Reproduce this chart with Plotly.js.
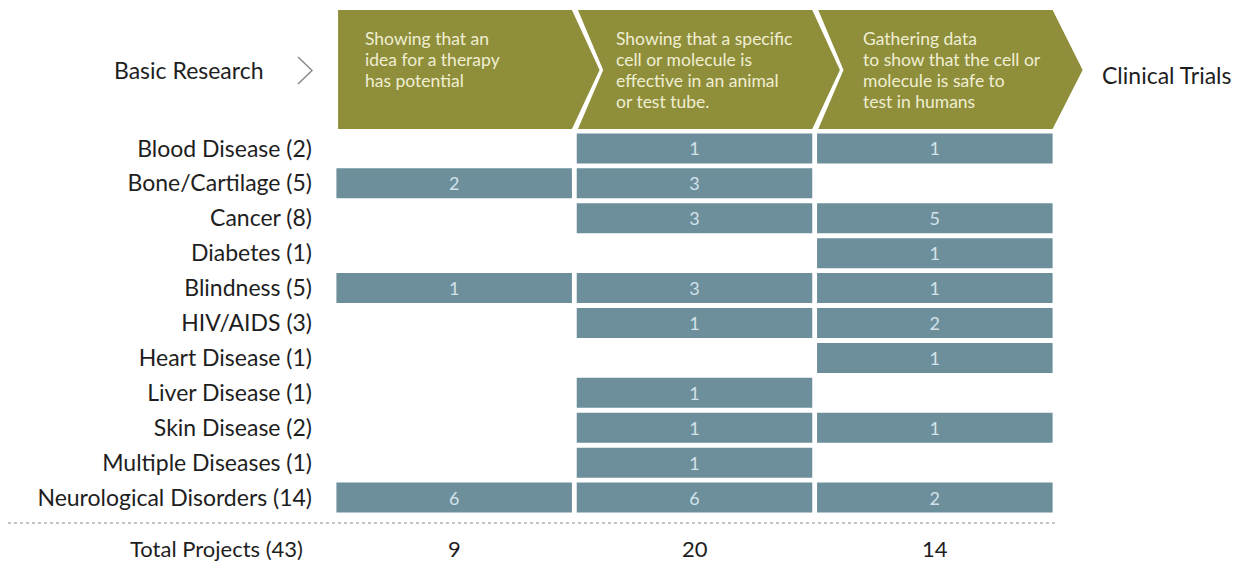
<!DOCTYPE html>
<html>
<head>
<meta charset="utf-8">
<script src="https://cdn.plot.ly/plotly-3.0.1.min.js"></script>
<style>html,body{margin:0;padding:0;background:#fff;}#chart{width:1234px;height:561px;}</style>
</head>
<body>
<div id="chart"></div>
<script>
// ---- data ----
const diseases = ["Blood Disease (2)", "Bone/Cartilage (5)", "Cancer (8)", "Diabetes (1)", "Blindness (5)", "HIV/AIDS (3)", "Heart Disease (1)", "Liver Disease (1)", "Skin Disease (2)", "Multiple Diseases (1)", "Neurological Disorders (14)"];
const ideaStage = [0, 2, 0, 0, 1, 0, 0, 0, 0, 0, 6];
const effectiveStage = [1, 3, 3, 0, 3, 1, 0, 1, 1, 1, 6];
const safetyStage = [1, 0, 5, 1, 1, 2, 1, 0, 1, 0, 2];
const stageLabels = [
  "Showing that an<br>idea for a therapy<br>has potential",
  "Showing that a specific<br>cell or molecule is<br>effective in an animal<br>or test tube.",
  "Gathering data<br>to show that the cell or<br>molecule is safe to<br>test in humans"
];
const totalLabel = "Total Projects (43)";
const startLabel = "Basic Research";
const endLabel = "Clinical Trials";

// ---- styling ----
const FONT = "Lato, 'Open Sans', sans-serif";
const BAR = "#6d8f9c";
const BARTEXT = "#d3e2e8";
const GREEN = "#8e8e3b";
const HEADTEXT = "#f0eed2";
const INK = "#1e1e1e";

const stages = [ideaStage, effectiveStage, safetyStage];
const traces = stages.map((vals, i) => ({
  type: "bar",
  orientation: "h",
  y: diseases.filter((d, k) => vals[k] > 0),
  x: vals.filter(v => v > 0).map(() => 0.98),
  base: i + 0.01,
  text: vals.filter(v => v > 0).map(String),
  textposition: "inside",
  insidetextanchor: "middle",
  textangle: 0,
  textfont: {family: FONT, size: 18, color: BARTEXT},
  marker: {color: BAR, line: {width: 0}},
  hoverinfo: "skip",
  showlegend: false
}));

// pixel helpers (plot area: left 334, width 721; top 131, height 384)
const PL = 334, PW = 721, PT = 131, PH = 384;
const px2x = p => (p - PL) / (PW / 3);
const px2px = p => (p - PL) / PW;
const py2py = p => (PT + PH - p) / PH;

const yTop = py2py(10), yBot = py2py(129), yMid = py2py(70);
const shapes = [];
for (let i = 0; i < 3; i++) {
  const left = (i === 0 ? 0.017 : i + 0.015) / 3;
  const notch = (i + 0.12) / 3;
  const right = (i + 0.99) / 3;
  const point = (i + (i === 2 ? 1.115 : 1.105)) / 3;
  let p = `M ${left} ${yTop} L ${right} ${yTop} L ${point} ${yMid} L ${right} ${yBot} L ${left} ${yBot}`;
  if (i > 0) p += ` L ${notch} ${yMid}`;
  p += " Z";
  shapes.push({type: "path", xref: "paper", yref: "paper", path: p, fillcolor: GREEN, line: {width: 0}, layer: "below"});
}
// small arrow after "Basic Research"
shapes.push({type: "path", xref: "paper", yref: "paper",
  path: `M ${px2px(298)} ${py2py(57)} L ${px2px(312)} ${py2py(70.5)} L ${px2px(298)} ${py2py(84)}`,
  line: {color: "#8a8a8a", width: 1.5}});
// dotted separator
shapes.push({type: "line", xref: "paper", yref: "paper", x0: px2px(8), x1: px2px(1055), y0: py2py(523), y1: py2py(523),
  line: {color: "#8a8a8a", width: 1, dash: "dot"}});

const headX = [px2x(363), px2x(614), px2x(861)];
const annotations = [];
stageLabels.forEach((t, i) => t.split("<br>").forEach((line, j) => annotations.push({
  xref: "x", yref: "paper", x: headX[i], y: py2py(38 + 21 * j), xanchor: "left", yanchor: "middle",
  text: line, align: "left", showarrow: false, font: {family: FONT, size: 17.5, color: HEADTEXT}
})));
annotations.push({xref: "paper", yref: "paper", x: px2px(266), y: yMid, xanchor: "right", yanchor: "middle",
  text: startLabel, showarrow: false, font: {family: FONT, size: 23, color: INK}});
annotations.push({xref: "paper", yref: "paper", x: px2px(1100), y: py2py(75), xanchor: "left", yanchor: "middle",
  text: endLabel, showarrow: false, font: {family: FONT, size: 23, color: INK}});
annotations.push({xref: "paper", yref: "paper", x: px2px(305), y: py2py(548), xanchor: "right", yanchor: "middle",
  text: totalLabel, showarrow: false, font: {family: FONT, size: 22, color: INK}});
stages.forEach((vals, i) => annotations.push({
  xref: "x", yref: "paper", x: i + 0.5, y: py2py(548), xanchor: "center", yanchor: "middle",
  text: String(vals.reduce((a, b) => a + b, 0)), showarrow: false, font: {family: FONT, size: 22, color: INK}
}));

const layout = {
  width: 1234, height: 561,
  margin: {l: PL, r: 1234 - PL - PW, t: PT, b: 561 - PT - PH, pad: 0},
  paper_bgcolor: "#ffffff", plot_bgcolor: "#ffffff",
  barmode: "overlay", bargap: 0.14,
  xaxis: {range: [0, 3], visible: false, fixedrange: true},
  yaxis: {type: "category", categoryorder: "array", categoryarray: diseases, range: [10.5, -0.5],
    showgrid: false, zeroline: false, showline: false, ticks: "", ticklabelstandoff: 21,
    tickfont: {family: FONT, size: 23, color: INK}, fixedrange: true},
  shapes: shapes, annotations: annotations, showlegend: false
};
Plotly.newPlot("chart", traces, layout, {displayModeBar: false, staticPlot: true});
</script>
</body>
</html>
